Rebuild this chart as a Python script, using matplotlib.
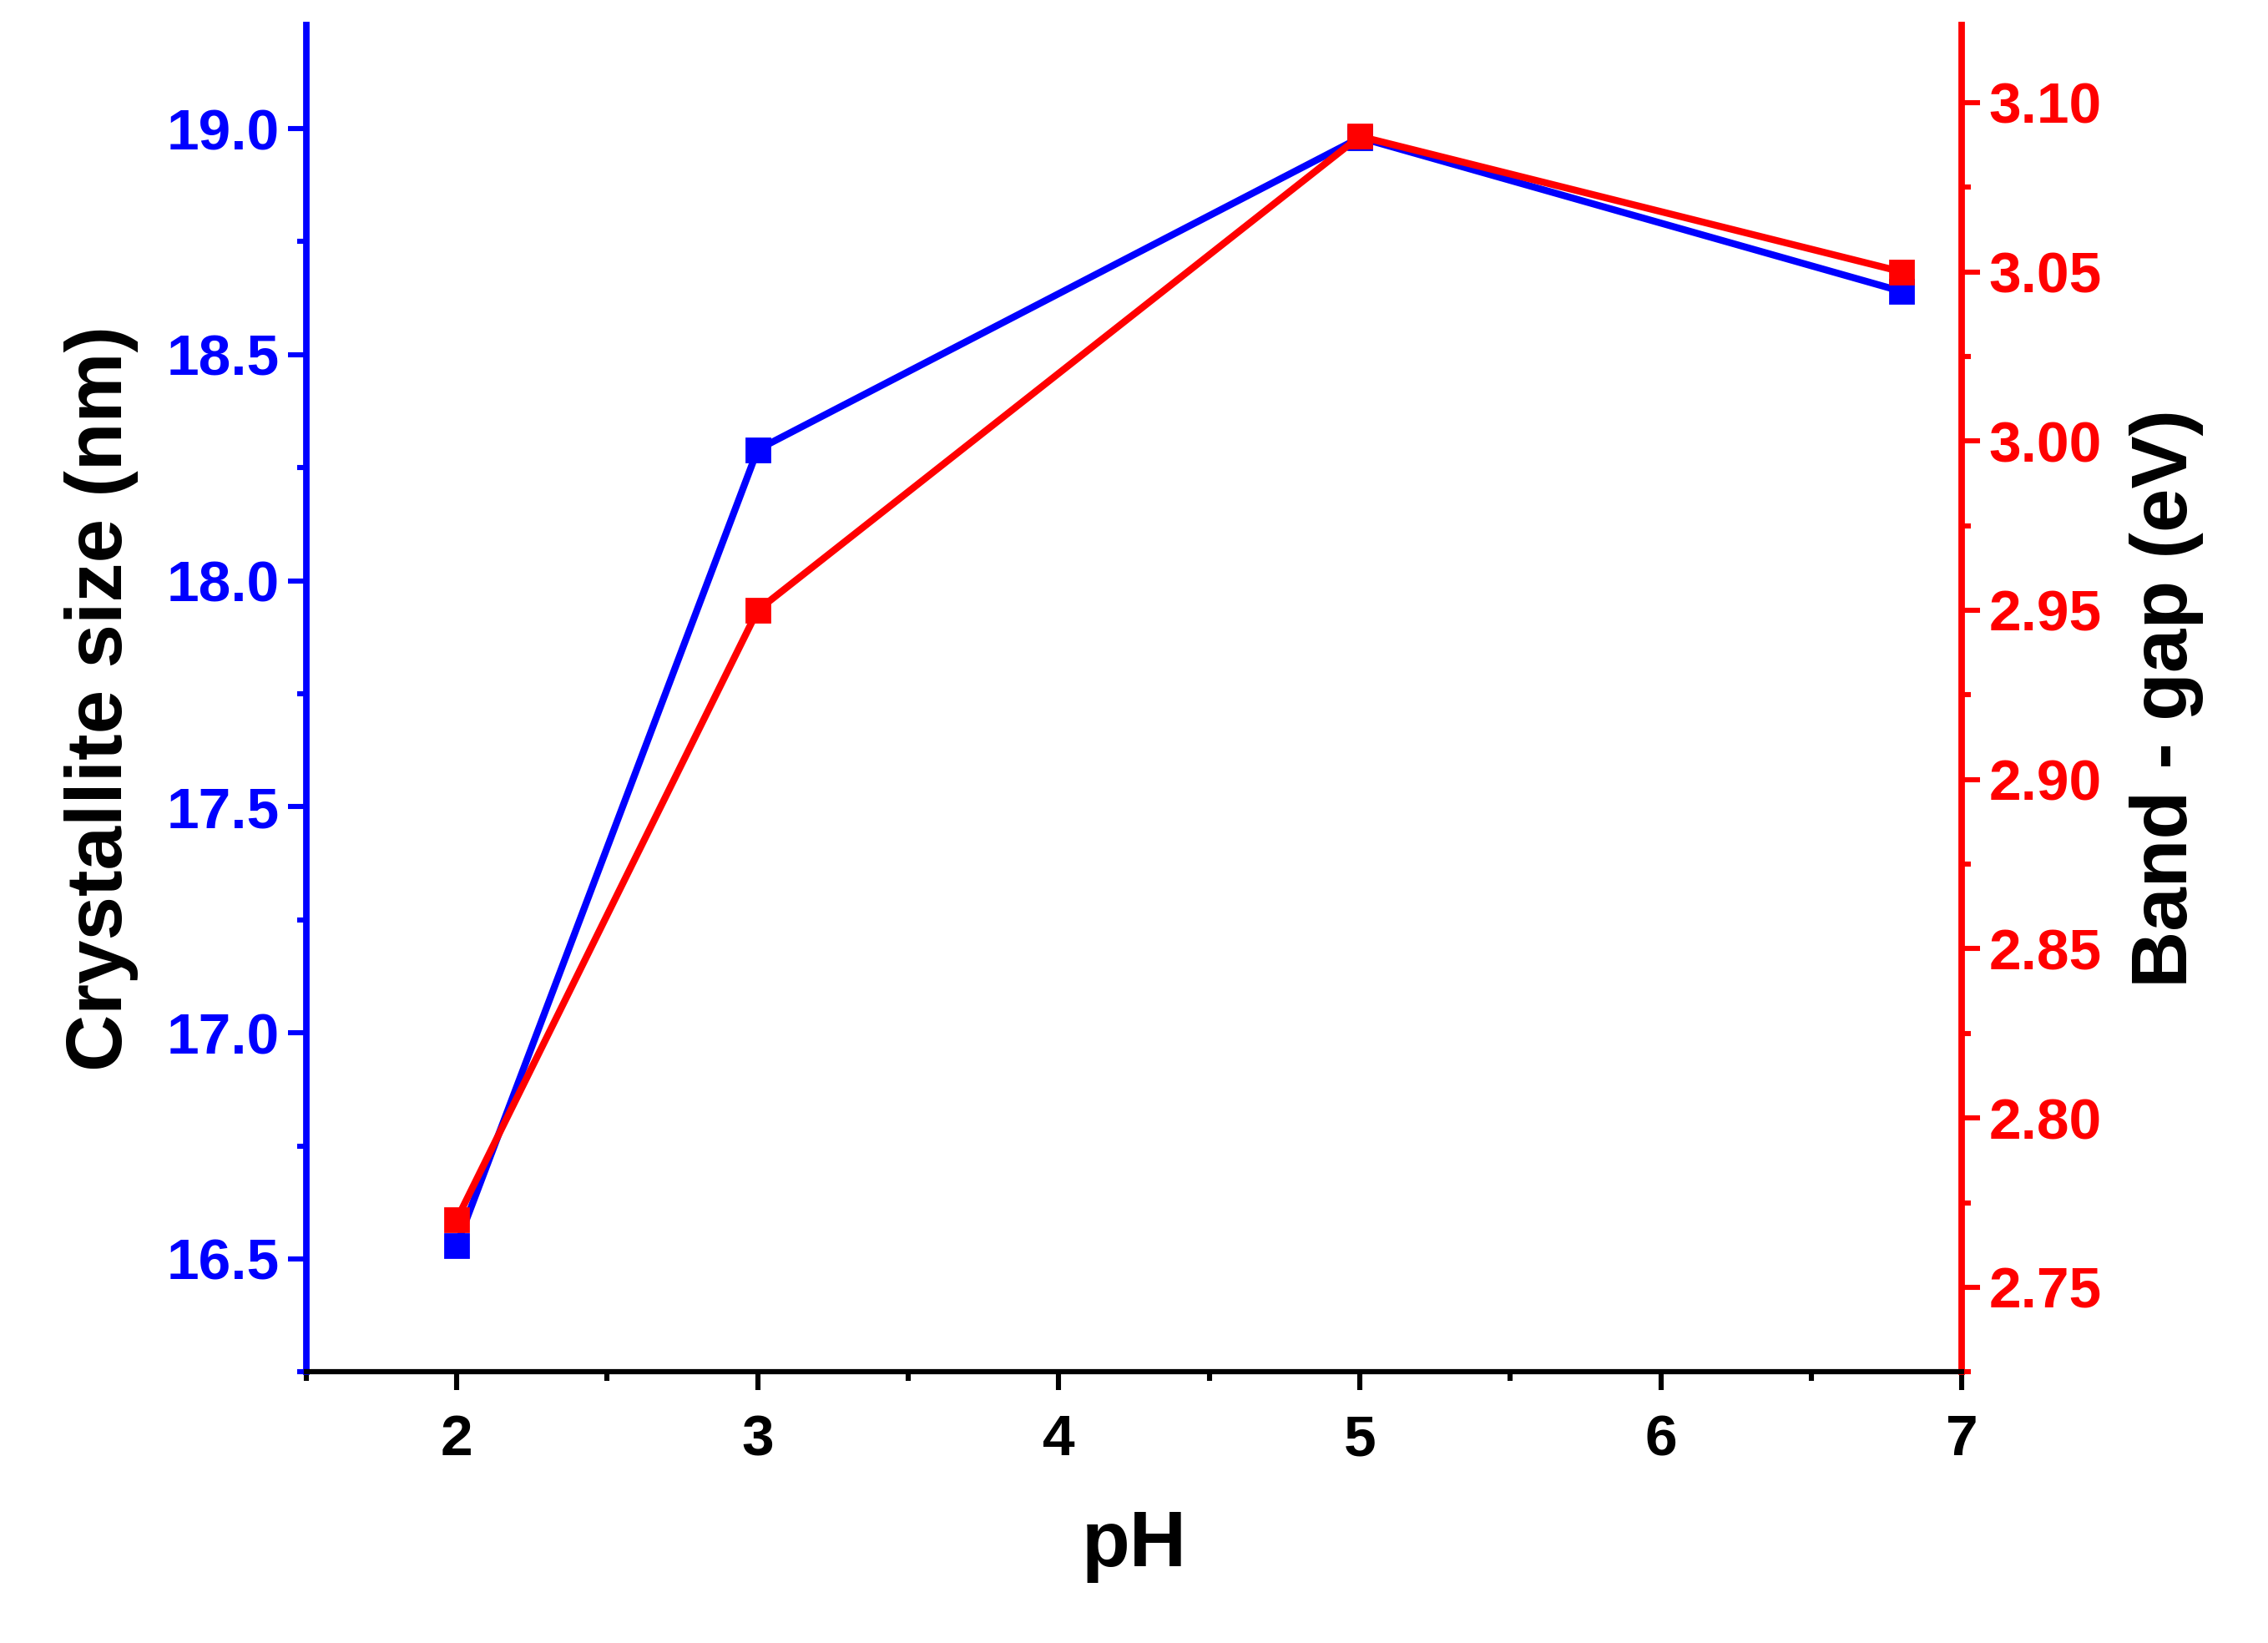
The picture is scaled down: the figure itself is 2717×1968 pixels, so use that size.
import matplotlib.pyplot as plt
from matplotlib.ticker import MultipleLocator

ph = [2, 3, 5, 6.8]
crystallite = [16.53, 18.29, 18.98, 18.64]
bandgap = [2.77, 2.95, 3.09, 3.05]

plt.rcParams['font.family'] = ['Liberation Sans', 'DejaVu Sans']
plt.rcParams['font.weight'] = 'bold'

fig = plt.figure(figsize=(13.585, 9.84), dpi=200)
ax = fig.add_axes([0.135, 0.165, 0.73, 0.82])
ax2 = ax.twinx()

ax.plot(ph, crystallite, color='blue', lw=3, marker='s', ms=10)
ax2.plot(ph, bandgap, color='red', lw=3, marker='s', ms=10)

ax.set_xlim(1.5, 7)
ax.set_ylim(16.25, 19.23)
ax2.set_ylim(2.725, 3.123)

ax.xaxis.set_major_locator(MultipleLocator(1))
ax.xaxis.set_minor_locator(MultipleLocator(0.5))
ax.yaxis.set_major_locator(MultipleLocator(0.5))
ax.yaxis.set_minor_locator(MultipleLocator(0.25))
ax2.yaxis.set_major_locator(MultipleLocator(0.05))
ax2.yaxis.set_minor_locator(MultipleLocator(0.025))
ax.yaxis.set_major_formatter('{x:.1f}')
ax2.yaxis.set_major_formatter('{x:.2f}')

for a in (ax, ax2):
    for s in a.spines.values():
        s.set_linewidth(2.2)
    a.spines['top'].set_visible(False)
ax.spines['left'].set_color('blue')
ax.spines['left'].set_linewidth(2.8)
ax2.spines['right'].set_color('red')
ax2.spines['right'].set_linewidth(2.8)
ax2.spines['left'].set_visible(False)

ax.tick_params(axis='x', which='major', length=8, width=2.2, labelsize=25, pad=10)
ax.tick_params(axis='x', which='minor', length=4, width=2.2)
ax.tick_params(axis='y', which='major', length=8, width=2.2, labelsize=25, colors='blue')
ax.tick_params(axis='y', which='minor', length=4, width=2.2, colors='blue')
ax2.tick_params(axis='y', which='major', length=8, width=2.2, labelsize=25, colors='red')
ax2.tick_params(axis='y', which='minor', length=4, width=2.2, colors='red')

ax.set_xlabel('pH', fontsize=34, fontweight='bold', labelpad=18)
ax.set_ylabel('Crystallite size (nm)', fontsize=34, fontweight='bold', labelpad=12)
ax2.set_ylabel('Band - gap (eV)', fontsize=34, fontweight='bold', labelpad=12)

fig.savefig('out.png', dpi=200)
